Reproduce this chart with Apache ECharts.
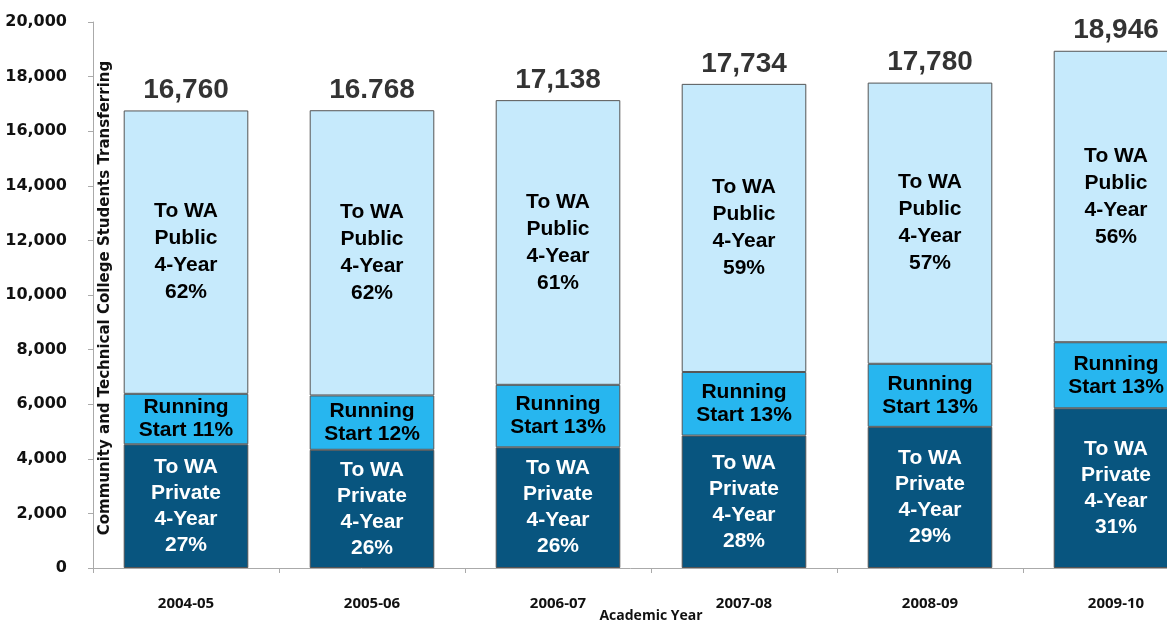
<!DOCTYPE html>
<html>
<head>
<meta charset="utf-8">
<script src="https://cdn.jsdelivr.net/npm/echarts@6/dist/echarts.min.js"></script>
<style>
html,body{margin:0;padding:0;background:#fff;}
#chart{width:1167px;height:623px;}
</style>
</head>
<body>
<div id="chart"></div>
<script>
var categories = ['2004-05', '2005-06', '2006-07', '2007-08', '2008-09', '2009-10'];
var privateValues = [4530, 4330, 4420, 4850, 5170, 5850];
var runningStartValues = [1850, 1990, 2290, 2330, 2310, 2420];
var publicValues = [10380, 10448, 10428, 10554, 10300, 10676];
var totalValues = [16760, 16768, 17138, 17734, 17780, 18946];
var totalLabels = ['16,760', '16.768', '17,138', '17,734', '17,780', '18,946'];
var privatePct = [27, 26, 26, 28, 29, 31];
var runningStartPct = [11, 12, 13, 13, 13, 13];
var publicPct = [62, 62, 61, 59, 57, 56];
var yTicks = [0, 2000, 4000, 6000, 8000, 10000, 12000, 14000, 16000, 18000, 20000];

var chart = echarts.init(document.getElementById('chart'), null, {renderer: 'canvas'});
var labelFont = 'Liberation Sans, Arial, sans-serif';
var barBorder = {borderColor: '#555', borderWidth: 1};

var option = {
  backgroundColor: '#fff',
  animation: false,
  grid: {left: 93, right: -42, top: 22, bottom: 55, containLabel: false, outerBoundsMode: 'none'},
  xAxis: {
    type: 'category',
    data: categories,
    name: 'Academic Year',
    nameLocation: 'middle',
    nameGap: 41,
    nameMoveOverlap: false,
    nameTextStyle: {fontFamily: 'Open Sans, sans-serif', fontWeight: 'bold', fontSize: 14, color: '#111'},
    axisLine: {lineStyle: {color: '#aaa', width: 1}},
    axisTick: {show: true, length: 5, lineStyle: {color: '#aaa'}},
    axisLabel: {margin: 28, fontFamily: 'Open Sans, sans-serif', fontWeight: 'bold', fontSize: 15, color: '#111'}
  },
  yAxis: {
    type: 'value',
    min: yTicks[0],
    max: yTicks[yTicks.length - 1],
    interval: yTicks[1] - yTicks[0],
    axisLine: {show: true, lineStyle: {color: '#aaa', width: 1}},
    axisTick: {show: true, length: 5, lineStyle: {color: '#aaa'}},
    splitLine: {show: false},
    axisLabel: {
      margin: 26,
      fontFamily: 'DejaVu Sans, Verdana, sans-serif',
      fontWeight: 'bold',
      fontSize: 16,
      color: '#111',
      formatter: function (v) { return v.toLocaleString('en-US'); }
    }
  },
  graphic: [{
    type: 'text',
    x: 105,
    y: 298,
    rotation: Math.PI / 2,
    silent: true,
    z: 10,
    style: {
      text: 'Community and Technical College Students Transferring',
      fontFamily: 'DejaVu Sans, sans-serif',
      fontWeight: 'bold',
      fontSize: 15,
      fill: '#111',
      align: 'center',
      verticalAlign: 'middle'
    }
  }],
  series: [
    {
      name: 'To WA Private 4-Year',
      type: 'bar',
      stack: 'total',
      barCategoryGap: '33%',
      data: privateValues,
      itemStyle: Object.assign({color: '#08557f'}, barBorder),
      label: {
        show: true,
        position: 'inside',
        color: '#fff',
        fontFamily: labelFont,
        fontWeight: 'bold',
        fontSize: 21,
        lineHeight: 26,
        formatter: function (p) { return 'To WA\nPrivate\n4-Year\n' + privatePct[p.dataIndex] + '%'; }
      }
    },
    {
      name: 'Running Start',
      type: 'bar',
      stack: 'total',
      data: runningStartValues,
      itemStyle: Object.assign({color: '#27b6ef'}, barBorder),
      label: {
        show: true,
        position: 'inside',
        color: '#000',
        fontFamily: labelFont,
        fontWeight: 'bold',
        fontSize: 21,
        lineHeight: 23,
        formatter: function (p) { return 'Running\nStart ' + runningStartPct[p.dataIndex] + '%'; }
      }
    },
    {
      name: 'To WA Public 4-Year',
      type: 'bar',
      stack: 'total',
      data: publicValues,
      itemStyle: Object.assign({color: '#c6eafc'}, barBorder),
      label: {
        show: true,
        position: 'inside',
        color: '#000',
        fontFamily: labelFont,
        fontWeight: 'bold',
        fontSize: 21,
        lineHeight: 27,
        formatter: function (p) { return 'To WA\nPublic\n4-Year\n' + publicPct[p.dataIndex] + '%'; }
      }
    },
    {
      name: 'Total',
      type: 'scatter',
      data: totalValues,
      symbolSize: 0,
      silent: true,
      label: {
        show: true,
        position: 'top',
        distance: 6,
        color: '#000',
        fontFamily: labelFont,
        fontWeight: 'bold',
        fontSize: 28,
        formatter: function (p) { return totalLabels[p.dataIndex]; }
      }
    }
  ]
};
chart.setOption(option);
</script>
</body>
</html>
